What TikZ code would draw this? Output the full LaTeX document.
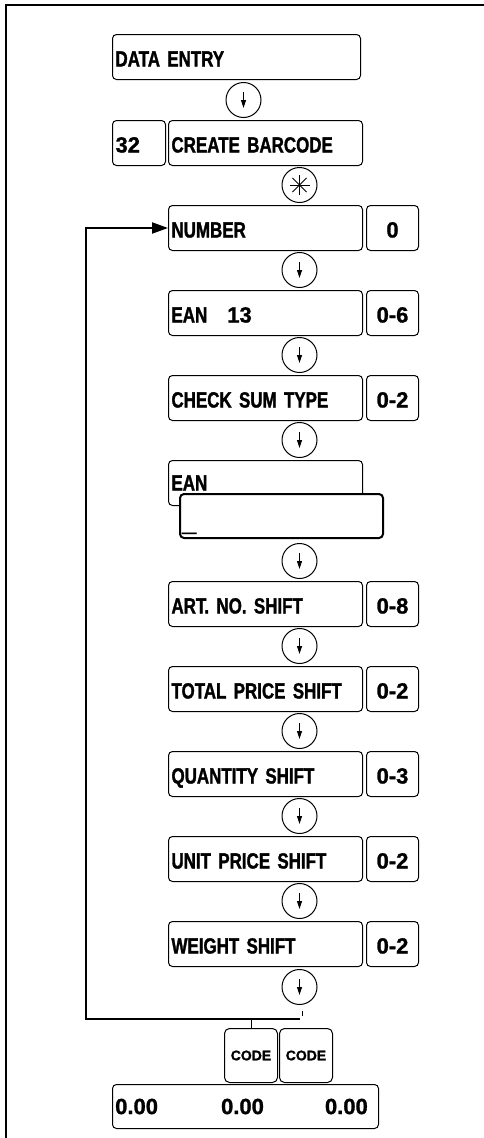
\documentclass[tikz,border=0pt]{standalone}
\usepackage{fontspec}
\newfontfamily\lcdfont{Liberation Sans}[FakeStretch=0.77, BoldFeatures={FakeBold=1.4}]
\newfontfamily\numfont{Liberation Sans}[BoldFeatures={FakeBold=1.2}]
\usetikzlibrary{positioning,arrows.meta,calc}

\begin{document}
\begin{tikzpicture}[
    x=1pt, y=-1pt,
    node distance=39pt and 3pt,
    menu/.style={draw, rounded corners=4pt, line width=1pt, align=left, minimum height=45pt, text width=188pt, inner xsep=3pt, inner ysep=0pt, text height=19pt, text depth=0pt, font=\lcdfont\bfseries\fontsize{22}{22}\selectfont},
    val/.style={draw, rounded corners=4pt, line width=1pt, minimum width=52pt, minimum height=45pt, inner sep=0pt, text height=19pt, text depth=0pt, font=\numfont\bfseries\fontsize{22}{22}\selectfont},
    input/.style={draw, fill=white, rounded corners=4pt, line width=2pt, minimum width=203pt, minimum height=44pt},
    key/.style={circle, draw, line width=1pt, minimum size=35pt, inner sep=0pt,
        path picture={\draw[line width=0.8pt, -{Triangle[length=8pt,width=5pt]}] ([yshift=8pt]path picture bounding box.center) -- ([yshift=-8pt]path picture bounding box.center);}},
    star/.style={circle, draw, line width=1pt, minimum size=35pt, inner sep=0pt,
        path picture={\foreach \r in {0,45,90,135} \draw[line width=0.8pt] ([shift={(\r:10pt)}]path picture bounding box.center) -- ([shift={(\r+180:10pt)}]path picture bounding box.center);}},
    codekey/.style={draw, rounded corners=5pt, line width=1pt, minimum width=53pt, minimum height=54pt, inner sep=0pt, font=\numfont\bfseries\fontsize{14}{14}\selectfont},
    disp/.style={draw, rounded corners=4pt, line width=1pt, minimum width=266pt, minimum height=44pt},
    dval/.style={inner sep=0pt, font=\numfont\bfseries\fontsize{22}{22}\selectfont},
    back/.style={line width=2pt, -{Triangle[length=16pt,width=11pt]}}
]
\useasboundingbox (0,0) rectangle (484,1138);
\draw[line width=2pt] (6,1140) -- (6,5) -- (486,5);

\node[menu, anchor=north west] (create) at (168,120) {CREATE BARCODE};
\node[menu, text width=47pt, left=2pt of create] (func) {{\numfont 32}};
\node[menu, text width=242pt, above=40pt of func.north west, anchor=south west] (entry) {DATA ENTRY};
\node[menu, below=of create] (num) {NUMBER};
\node[menu, below=of num] (type) {EAN\hspace{20pt}{\numfont 13}};
\node[menu, below=of type] (csum) {CHECK SUM TYPE};
\node[menu, text height=15pt, below=of csum] (ean) {EAN};
\node[input, anchor=north west] (eanin) at ([shift={(11,-13)}]ean.south west) {};
\node[inner sep=0pt, anchor=base west, font=\numfont\fontsize{26}{26}\selectfont] (cursor) at ([shift={(3,-10)}]eanin.south west) {\_};
\node[menu, below=75pt of ean] (art) {ART. NO. SHIFT};
\node[menu, below=of art] (total) {TOTAL PRICE SHIFT};
\node[menu, below=of total] (qty) {QUANTITY SHIFT};
\node[menu, below=of qty] (unit) {UNIT PRICE SHIFT};
\node[menu, below=of unit] (weight) {WEIGHT SHIFT};

\foreach \n/\v in {num/0, type/0-6, csum/0-2, art/0-8, total/0-2, qty/0-3, unit/0-2, weight/0-2}
    \node[val, right=of \n] (\n-val) {\v};

% keys between the steps
\node[key, above=2pt of create.north, xshift=-22pt] (k-create) {};
\node[star, above=2pt of num.north, xshift=34pt] (k-num) {};
\foreach \n in {type, csum, ean, art, total, qty, unit, weight}
    \node[key, above=2pt of \n.north, xshift=34pt] (k-\n) {};
\node[key, below=2pt of weight.south, xshift=34pt] (k-end) {};

% loop back
\coordinate (ret) at ([yshift=-14pt]k-end.south);
\draw[line width=0.6pt] ([xshift=3pt,yshift=-6pt]k-end.south) -- ++(0,5);
\draw[back] (ret) -| ([xshift=-82pt]num.west) -- (num.west);

\node[codekey, anchor=north west] (code1) at (224,1028) {CODE};
\node[codekey, right=1pt of code1] (code2) {CODE};
\draw[line width=1pt] (code1.north) -- (code1.north |- ret);

\node[disp, anchor=north west] (disp) at (112,1084) {};
\node[dval, anchor=west, xshift=3pt] (d-left) at (disp.west) {0.00};
\node[dval, xshift=-3pt] (d-mid) at (disp.center) {0.00};
\node[dval, anchor=east, xshift=-11pt] (d-right) at (disp.east) {0.00};
\end{tikzpicture}
\end{document}
